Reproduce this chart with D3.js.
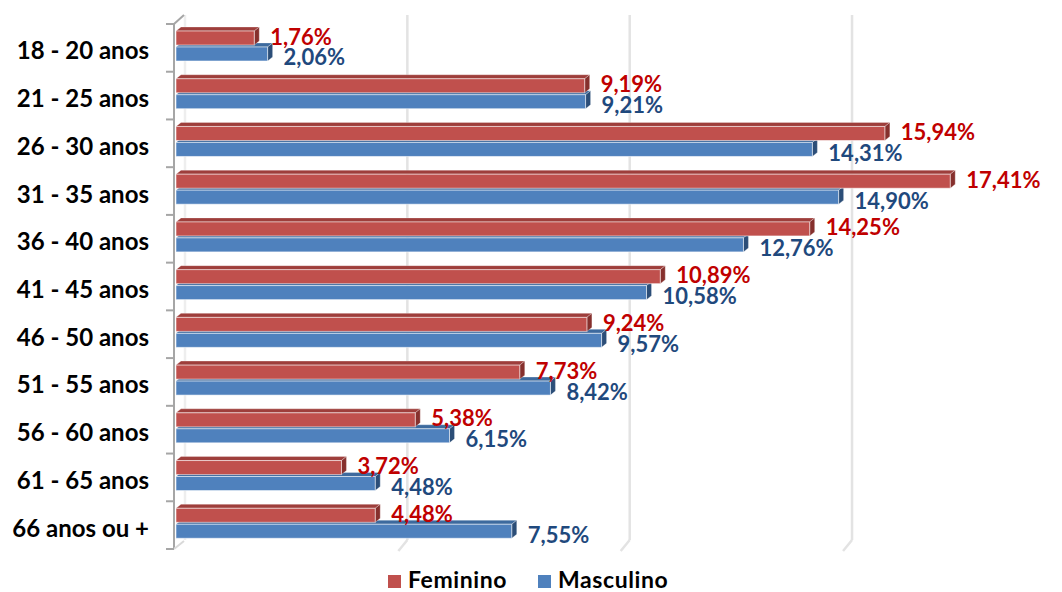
<!DOCTYPE html>
<html>
<head>
<meta charset="utf-8">
<script src="https://cdn.jsdelivr.net/npm/d3@7"></script>
<style>
  html, body { margin: 0; padding: 0; background: #fff; }
  svg { display: block; }
  text { font-family: Lato, "Open Sans", sans-serif; font-weight: bold; }
</style>
</head>
<body>
<svg id="chart" width="1062" height="592"></svg>
<script>
const categories = ["18 - 20 anos","21 - 25 anos","26 - 30 anos","31 - 35 anos","36 - 40 anos","41 - 45 anos","46 - 50 anos","51 - 55 anos","56 - 60 anos","61 - 65 anos","66 anos ou +"];
const seriesNames = ["Feminino","Masculino"];
const feminino = [1.76,9.19,15.94,17.41,14.25,10.89,9.24,7.73,5.38,3.72,4.48];
const masculino = [2.06,9.21,14.31,14.90,12.76,10.58,9.57,8.42,6.15,4.48,7.55];
const gridValues = [0,5,10,15];

const colors = {
  Feminino: {front:"#C0504D", top:"#9E3E3B", side:"#86302D", label:"#C00000"},
  Masculino:{front:"#4F81BD", top:"#3D6A9E", side:"#2C4E78", label:"#1F497D"}
};

const svg = d3.select("#chart");
const x = d3.scaleLinear().domain([0,20]).range([176, 176 + 889.4]);
const y = d3.scaleBand().domain(categories).range([24, 549]).padding(0);
const ySub = d3.scaleBand().domain(seriesNames).range([7, 37]).paddingInner(0.12);

const wallDx = 9, wallDy = -9;
const bdx = 5, bdy = -4;

// gridlines on back wall + floor diagonal
const grid = svg.append("g");
gridValues.forEach(v => {
  const xb = x(v) + wallDx;
  const light = v === 0 ? "#EEEEEE" : "#E3E3E3";
  grid.append("line").attr("x1", xb).attr("x2", xb).attr("y1", 15).attr("y2", 549 + wallDy)
    .attr("stroke", light).attr("stroke-width", 2.5);
  if (v > 0) {
    grid.append("line").attr("x1", xb).attr("y1", 549 + wallDy).attr("x2", x(v)).attr("y2", 551)
      .attr("stroke", light).attr("stroke-width", 2.5);
  }
});

// bars
const bars = svg.append("g");
categories.forEach((c, i) => {
  const vals = {Feminino: feminino[i], Masculino: masculino[i]};
  ["Masculino","Feminino"].forEach(s => {
    const col = colors[s];
    const y0 = y(c) + ySub(s);
    const h = ySub.bandwidth();
    const x0 = x(0), x1 = x(vals[s]);
    bars.append("path")
      .attr("d", `M${x0},${y0} L${x0+bdx},${y0+bdy} L${x1+bdx},${y0+bdy} L${x1},${y0} Z`)
      .attr("fill", col.top).attr("stroke", "rgba(255,255,255,0.35)").attr("stroke-width", 0.8);
    bars.append("path")
      .attr("d", `M${x1},${y0} L${x1+bdx},${y0+bdy} L${x1+bdx},${y0+h+bdy} L${x1},${y0+h} Z`)
      .attr("fill", col.side).attr("stroke", "rgba(255,255,255,0.35)").attr("stroke-width", 0.8);
    bars.append("rect")
      .attr("x", x0).attr("y", y0).attr("width", x1 - x0).attr("height", h)
      .attr("fill", col.front).attr("stroke", "rgba(255,255,255,0.55)").attr("stroke-width", 1);
  });
});

// axis line with ticks at band boundaries
const ax = svg.append("g").attr("stroke", "#A6A6A6").attr("stroke-width", 2).attr("fill", "none");
ax.append("line").attr("x1", 174).attr("x2", 174).attr("y1", y.range()[0]).attr("y2", y.range()[1]);
ax.append("line").attr("x1", 174).attr("y1", y.range()[0]).attr("x2", 174 + 10).attr("y2", y.range()[0] - 9);
ax.append("line").attr("x1", 174).attr("y1", y.range()[1]).attr("x2", 174 + 10).attr("y2", y.range()[1] - 8).attr("stroke", "#D9D9D9");
const bounds = categories.map(c => y(c)).concat([y.range()[1]]);
bounds.forEach(b => {
  ax.append("line").attr("x1", 166).attr("x2", 174).attr("y1", b).attr("y2", b);
});

// category labels
svg.append("g").selectAll("text").data(categories).join("text")
  .attr("x", 149).attr("y", d => y(d) + y.bandwidth()/2 + 2)
  .attr("text-anchor", "end").attr("dominant-baseline", "central")
  .attr("font-size", 24).attr("fill", "#000").text(d => d);

// value labels
const fmt = v => v.toFixed(2).replace(".", ",") + "%";
const labels = svg.append("g");
categories.forEach((c, i) => {
  const vals = {Feminino: feminino[i], Masculino: masculino[i]};
  seriesNames.forEach(s => {
    const yc = y(c) + ySub(s) + ySub.bandwidth()/2 + (s === "Feminino" ? -2 : 3);
    labels.append("text")
      .attr("x", x(vals[s]) + 16).attr("y", yc)
      .attr("dominant-baseline", "central")
      .attr("font-size", 22).attr("fill", colors[s].label)
      .text(fmt(vals[s]));
  });
});

// legend
const legend = svg.append("g");
const legendItems = [{name:"Feminino", x:388}, {name:"Masculino", x:538}];
legendItems.forEach(d => {
  legend.append("rect").attr("x", d.x).attr("y", 575).attr("width", 13).attr("height", 13)
    .attr("fill", colors[d.name].front);
  legend.append("text").attr("x", d.x + 20).attr("y", 588)
    .attr("font-size", 23).attr("letter-spacing", 0.6).attr("fill", "#000").text(d.name);
});
</script>
</body>
</html>
